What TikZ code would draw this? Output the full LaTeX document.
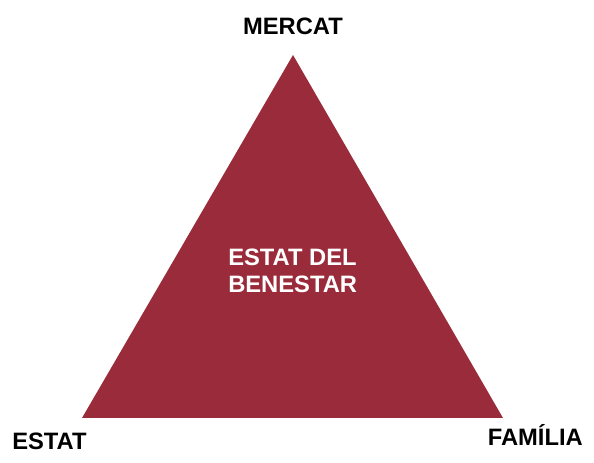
\documentclass[tikz,border=0pt]{standalone}
\usepackage{fontspec}
\setmainfont{Liberation Sans}
\usepackage{xcolor}
\definecolor{granat}{HTML}{9A2B3A}

\begin{document}
\begin{tikzpicture}[x=0.75pt,y=-0.75pt]
\useasboundingbox (0,0) rectangle (594,463);
\tikzset{etiqueta/.style={font=\fontsize{17.8}{20.3}\selectfont\bfseries,inner sep=0}}
\coordinate (dalt) at (293,55);
\coordinate (esq) at (82,418);
\coordinate (dre) at (503,418);
\fill[granat] (dalt) -- (esq) -- (dre) -- cycle;
\node[etiqueta,anchor=base] (mercat) at (293,35) {MERCAT};
\node[etiqueta,anchor=base west] (estat) at (12,450) {ESTAT};
\node[etiqueta,anchor=base east] (familia) at (583,446) {FAMÍLIA};
\node[etiqueta,anchor=base west,align=left,text=white] (benestar) at (228,293) {ESTAT DEL\\BENESTAR};
\end{tikzpicture}
\end{document}
